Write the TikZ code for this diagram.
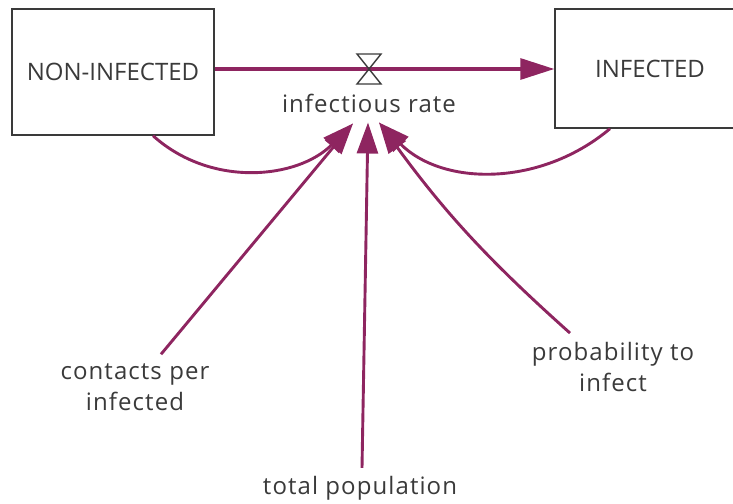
\documentclass[tikz,border=0pt]{standalone}
\usepackage{fontspec}
\setmainfont{Open Sans}
\newfontfamily\auxfont[LetterSpace=4.5]{Open Sans}
\usetikzlibrary{arrows.meta, positioning, calc}
\definecolor{plum}{HTML}{8E2560}
\definecolor{ink}{HTML}{3A3A3A}

\begin{document}
\begin{tikzpicture}[
    x=1pt, y=-1pt,
    every node/.style={font=\fontsize{24}{31}\selectfont, text=ink},
    stock/.style={draw=ink, line width=1.4pt, rectangle, inner sep=0pt},
    aux/.style={align=center, inner sep=2pt,
                font=\auxfont\fontsize{24}{31}\selectfont},
    flow/.style={-{Triangle[length=34pt,width=21pt]}, line width=3.2pt,
                 draw=plum},
    link/.style={-{Triangle[length=31pt,width=21pt]}, line width=2.9pt,
                 draw=plum},
    valve/.style={draw=ink, line width=1.4pt, line join=miter},
    ]

\useasboundingbox (0,0) rectangle (733,503);
\clip (0,0) rectangle (733,503);

% Stocks
\node[stock, minimum width=202pt, minimum height=126pt] (noninf)
  at (113,72) {NON-INFECTED};
\node[stock, minimum width=190pt, minimum height=119pt] (infd)
  at (650,68.5) {INFECTED};

% Flow pipe and valve
\coordinate (valve) at (369,69);
\draw[flow] (noninf.east |- valve) -- (infd.west |- valve);
\draw[valve] ($(valve)+(-12,-15)$) -- ($(valve)+(12,-15)$)
  -- ($(valve)+(-12,15)$) -- ($(valve)+(12,15)$) -- cycle;
\node[aux] (rate) at (369,103) {infectious rate};

% Auxiliaries
\node[aux] (contacts) at (135,387) {contacts per\\infected};
\node[aux] (total) at (360,488) {total population};
\node[aux] (prob) at (613,367) {probability to\\infect};

% Links into the rate
\draw[link] ([xshift=40pt]noninf.south)
  to[out=-42, in=-135] ([shift={(-16,9)}]rate.south);
\draw[link] ([xshift=-40pt]infd.south)
  to[out=-140, in=-45] ([shift={(10,8)}]rate.south);
\draw[link] ([shift={(26,-7)}]contacts.north)
  -- ([shift={(-16,9)}]rate.south);
\draw[link] ([shift={(2,-6)}]total.north)
  -- ([shift={(-1,8)}]rate.south);
\draw[link] ([shift={(-43,-7)}]prob.north)
  to[bend left=6] ([shift={(10,8)}]rate.south);

\end{tikzpicture}
\end{document}
